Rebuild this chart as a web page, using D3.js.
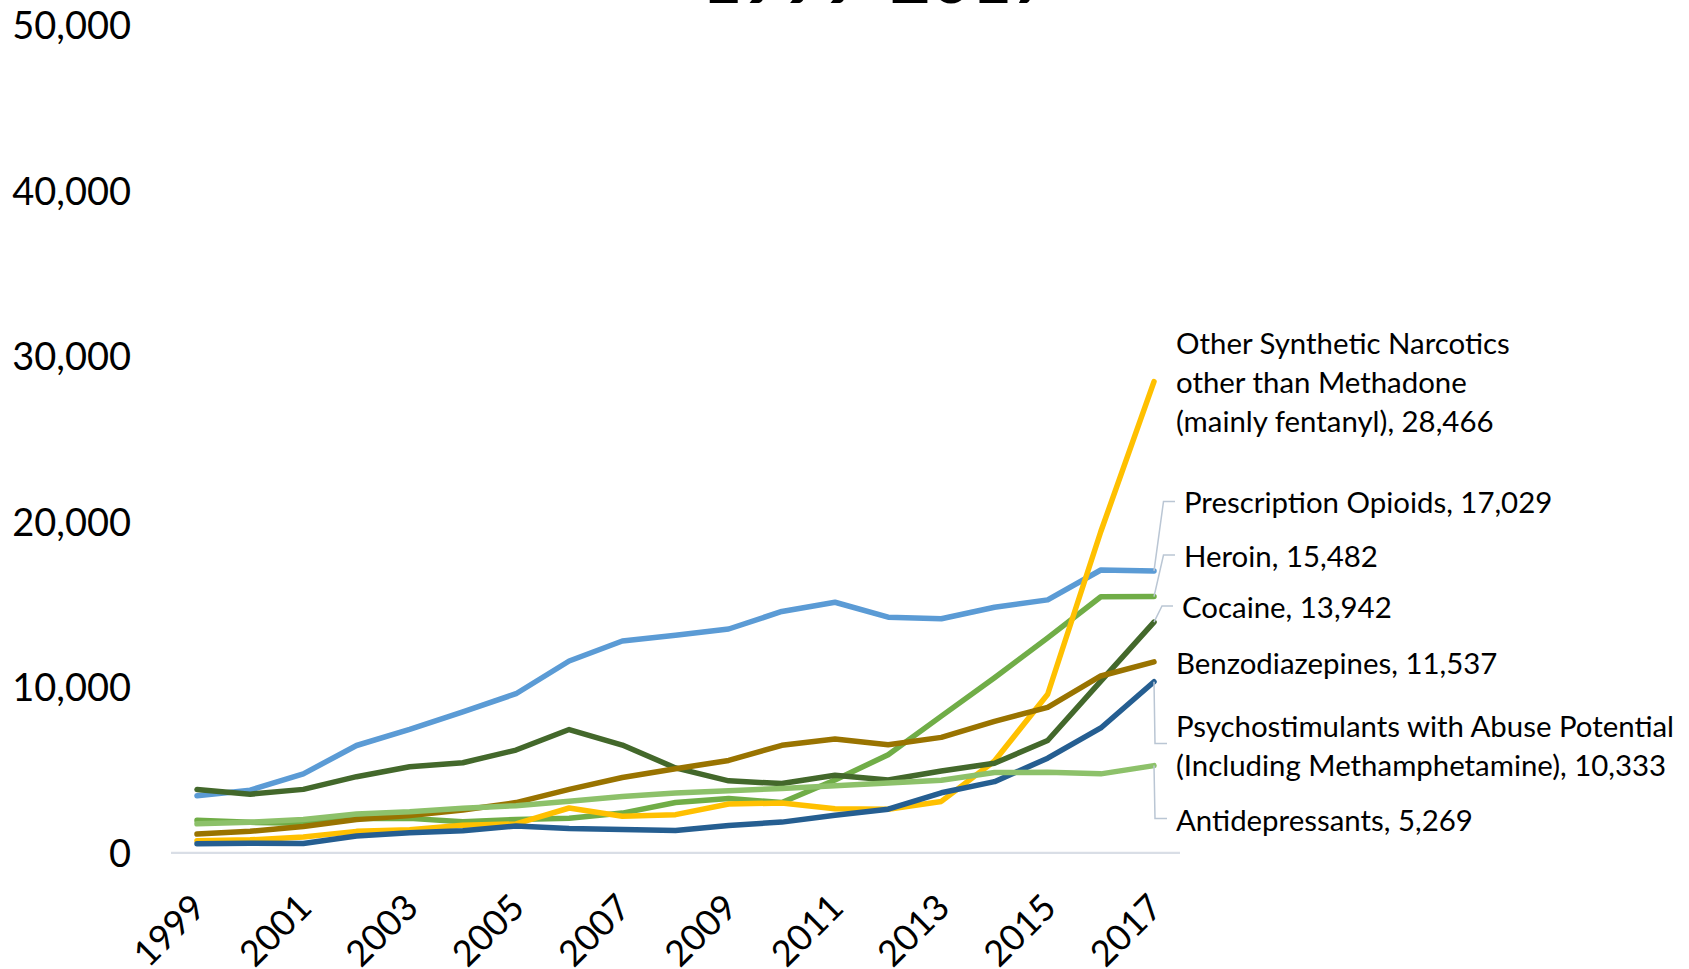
<!DOCTYPE html>
<html>
<head>
<meta charset="utf-8">
<script src="https://cdn.jsdelivr.net/npm/d3@7"></script>
<style>
  html, body { margin: 0; padding: 0; background: #ffffff; overflow: hidden; }
  svg { display: block; font-family: Lato, "Noto Sans", sans-serif; }
</style>
</head>
<body>
<svg id="chart" width="1689" height="969"></svg>
<script>
// ---------- data ----------
const years = d3.range(1999, 2018);
const yTicks = [0, 10000, 20000, 30000, 40000, 50000];
const xTickYears = [1999, 2001, 2003, 2005, 2007, 2009, 2011, 2013, 2015, 2017];
const titleText = "1999-2017";

const prescriptionOpioids = [3442, 3785, 4770, 6483, 7456, 8517, 9612, 11589, 12796, 13149, 13523, 14583, 15140, 14240, 14145, 14838, 15281, 17087, 17029];
const heroin = [1960, 1842, 1779, 2089, 2080, 1878, 2009, 2088, 2399, 3041, 3278, 3036, 4397, 5925, 8257, 10574, 12989, 15469, 15482];
const syntheticNarcotics = [730, 782, 957, 1295, 1400, 1664, 1742, 2707, 2213, 2306, 2946, 3007, 2666, 2628, 3105, 5544, 9580, 19413, 28466];
const cocaine = [3822, 3544, 3833, 4599, 5199, 5443, 6208, 7448, 6512, 5129, 4350, 4183, 4681, 4404, 4944, 5415, 6784, 10375, 13942];
const benzodiazepines = [1135, 1298, 1594, 2006, 2248, 2585, 3035, 3835, 4549, 5083, 5582, 6497, 6872, 6524, 6973, 7945, 8791, 10684, 11537];
const psychostimulants = [547, 578, 563, 1012, 1216, 1335, 1621, 1467, 1406, 1353, 1653, 1854, 2266, 2635, 3627, 4298, 5716, 7542, 10333];
const antidepressants = [1749, 1849, 2007, 2341, 2481, 2695, 2848, 3120, 3398, 3620, 3754, 3889, 4058, 4216, 4387, 4847, 4869, 4770, 5269];

const seriesNames = ["Prescription Opioids", "Heroin", "Other Synthetic Narcotics other than Methadone (mainly fentanyl)", "Cocaine", "Benzodiazepines", "Psychostimulants with Abuse Potential (Including Methamphetamine)", "Antidepressants"];
const labelLines = [
  ["Prescription Opioids, 17,029"],
  ["Heroin, 15,482"],
  ["Other Synthetic Narcotics", "other than Methadone", "(mainly fentanyl), 28,466"],
  ["Cocaine, 13,942"],
  ["Benzodiazepines, 11,537"],
  ["Psychostimulants with Abuse Potential", "(Including Methamphetamine), 10,333"],
  ["Antidepressants, 5,269"]
];
const seriesValues = [prescriptionOpioids, heroin, syntheticNarcotics, cocaine, benzodiazepines, psychostimulants, antidepressants];

// ---------- styles / layout ----------
const colors = ["#5B9BD5", "#70AD47", "#FFC000", "#43682B", "#997300", "#255E91", "#8DC16A"];
// label placement: [x of text start, y of first line centre, y of leader elbow or null]
const labelLayout = [
  [1184, 503, 501.5],
  [1184, 557, 555],
  [1176, 343.5, null],
  [1182, 607.5, 606],
  [1176, 663.5, null],
  [1176, 727, 743.5],
  [1176, 821, 818.5]
];
const leaderElbowDx = [9.5, 9.5, 0, 8, 0, 1, 1];
const lineHeight = 39;

const svg = d3.select("#chart");
const x = d3.scaleLinear().domain([1999, 2017]).range([197, 1154]);
const y = d3.scaleLinear().domain([0, 50000]).range([852.8, 25.3]);

// title (mostly cut off at top)
svg.append("text")
  .attr("x", 877).attr("y", 3)
  .attr("text-anchor", "middle")
  .attr("font-weight", "bold")
  .attr("font-size", 70)
  .attr("fill", "#000")
  .text(titleText);

// y-axis labels
const yAxis = d3.axisLeft(y).tickValues(yTicks).tickSize(0).tickPadding(0)
  .tickFormat(d3.format(","));
const gy = svg.append("g").attr("transform", "translate(131,0)").call(yAxis);
gy.select(".domain").remove();
gy.selectAll("text").attr("font-size", 38).attr("font-family", "Lato, sans-serif").attr("fill", "#000").attr("dy", "0.35em");

// x axis baseline
svg.append("line")
  .attr("x1", 171).attr("x2", 1180)
  .attr("y1", y(0)).attr("y2", y(0))
  .attr("stroke", "#D9DEE6").attr("stroke-width", 2.2);

// x-axis labels
const xAxis = d3.axisBottom(x).tickValues(xTickYears).tickSize(0).tickFormat(d3.format("d"));
const gx = svg.append("g").attr("transform", `translate(0,${y(0)})`).call(xAxis);
gx.select(".domain").remove();
gx.selectAll("text")
  .attr("font-size", 36).attr("font-family", "Lato, sans-serif").attr("fill", "#000")
  .attr("text-anchor", "end")
  .attr("dy", null).attr("y", 0)
  .attr("transform", "translate(10,57) rotate(-45)");

// lines
const lineGen = d3.line().x((d, i) => x(years[i])).y(d => y(d));
seriesValues.forEach((vals, s) => {
  svg.append("path")
    .datum(vals)
    .attr("d", lineGen)
    .attr("fill", "none")
    .attr("stroke", colors[s])
    .attr("stroke-width", 5.5)
    .attr("stroke-linejoin", "round")
    .attr("stroke-linecap", "round");
});

// leader lines + labels
seriesValues.forEach((vals, s) => {
  const [lx, ly, elbowY] = labelLayout[s];
  const px = x(2017), py = y(vals[vals.length - 1]);
  if (elbowY !== null) {
    const ex = px + leaderElbowDx[s];
    svg.append("path")
      .attr("d", `M${px},${py} L${ex},${elbowY} L${lx - 9},${elbowY}`)
      .attr("fill", "none")
      .attr("stroke", "#BAC6D4")
      .attr("stroke-width", 1.5);
  }
  const t = svg.append("text")
    .attr("x", lx).attr("y", ly)
    .attr("font-size", 29.4)
    .attr("fill", "#000");
  labelLines[s].forEach((ln, i) => {
    t.append("tspan").attr("x", lx).attr("y", ly + i * lineHeight).attr("dy", "0.35em").text(ln);
  });
});
</script>
</body>
</html>
